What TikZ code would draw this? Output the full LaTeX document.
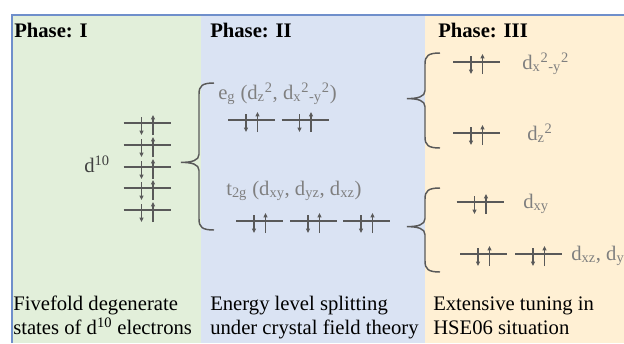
\documentclass[tikz,border=0pt]{standalone}
\usepackage{fontspec}
\setmainfont{LiberationSerif}[Extension=.ttf,UprightFont=*-Regular,BoldFont=*-Bold,ItalicFont=*-Italic,BoldItalicFont=*-BoldItalic]
\usetikzlibrary{arrows.meta,calc}
\definecolor{LeafGreen}{HTML}{E2EFDA}
\definecolor{PaleBlue}{HTML}{DAE3F3}
\definecolor{Peach}{HTML}{FFF0D4}
\definecolor{FrameBlue}{HTML}{6F8FCB}
\definecolor{LineGray}{HTML}{595959}
\definecolor{TagGray}{HTML}{7F7F7F}
\definecolor{InkGray}{HTML}{404040}

\begin{document}
\begin{tikzpicture}[x=0.75pt,y=-0.75pt,>={Triangle[length=3.2pt,width=2.8pt]},
  every node/.style={inner sep=0pt,font=\rmfamily\fontsize{15.5}{17.5}\selectfont},
  head/.style={anchor=base west,font=\rmfamily\fontsize{15.5}{17.5}\selectfont\bfseries},
  note/.style={anchor=base west,align=left},
  tag/.style={anchor=base west,text=TagGray},
  lvl/.style={LineGray,line width=1.1pt},
  spin/.style={LineGray,line width=0.9pt,->},
  curly/.style={LineGray,line width=1.1pt,to path={
    .. controls ($(\tikztostart)+(-12,0)$) and ($(\tikztostart)+(-15,3)$) .. ($(\tikztostart)+(-15,11)$)
    -- ($(\tikztostart)!#1!(\tikztotarget)+(-15,-8)$)
    .. controls ($(\tikztostart)!#1!(\tikztotarget)+(-15,-2)$) and ($(\tikztostart)!#1!(\tikztotarget)+(-22,0)$) .. ($(\tikztostart)!#1!(\tikztotarget)+(-33,0)$)
    .. controls ($(\tikztostart)!#1!(\tikztotarget)+(-22,0)$) and ($(\tikztostart)!#1!(\tikztotarget)+(-15,2)$) .. ($(\tikztostart)!#1!(\tikztotarget)+(-15,8)$)
    -- ($(\tikztotarget)+(-15,-11)$)
    .. controls ($(\tikztotarget)+(-15,-3)$) and ($(\tikztotarget)+(-12,0)$) .. (\tikztotarget)}},
  curly/.default=0.5,
  orb/.pic={\draw[lvl] (-23.5,0) -- (23.5,0);
    \draw[spin] (-5.5,-6) -- (-5.5,12);
    \draw[spin] (6,12) -- (6,-8);}]
  \useasboundingbox (0,0) rectangle (624,343);
  \fill[LeafGreen] (12,15) rectangle (201,343);
  \fill[PaleBlue] (201,15) rectangle (425,343);
  \fill[Peach] (425,15) rectangle (624,343);
  \draw[FrameBlue,line width=0.8pt] (12,343) -- (12,15) -- (624,15);

  \node[head] (phI) at (14,37) {Phase: I};
  \node[head] (phII) at (210,37) {Phase: II};
  \node[head] (phIII) at (438,37) {Phase: III};

  \foreach \y [count=\k] in {123,145,167,188,210}{
    \pic (dI\k) at (147,\y) {orb};
  }
  \node[anchor=base east,text=InkGray] (d10) at (110,172) {d\textsuperscript{10}};

  \node[tag] (eg) at (218,99) {e\textsubscript{g} (d\textsubscript{z}\textsuperscript{2}, d\textsubscript{x}\textsuperscript{2}\textsubscript{-y}\textsuperscript{2})};
  \foreach \x [count=\k] in {251.5,305}{
    \pic (egI\k) at (\x,120) {orb};
  }
  \node[tag] (tg) at (226,195) {t\textsubscript{2g} (d\textsubscript{xy}, d\textsubscript{yz}, d\textsubscript{xz})};
  \foreach \x [count=\k] in {259.5,313.5,366.5}{
    \pic (tgI\k) at (\x,221) {orb};
  }

  \pic (dx2y2) at (476.5,62) {orb};
  \pic (dz2) at (476.5,133) {orb};
  \pic (dxy) at (480,202) {orb};
  \pic (dxz) at (483.5,254) {orb};
  \pic (dyz) at (538.5,254) {orb};
  \node[tag] (lx2y2) at (522,69) {d\textsubscript{x}\textsuperscript{2}\textsubscript{-y}\textsuperscript{2}};
  \node[tag] (lz2) at (527,140) {d\textsubscript{z}\textsuperscript{2}};
  \node[tag] (lxy) at (523,208) {d\textsubscript{xy}};
  \node[tag] (lxzyz) at (571,260) {d\textsubscript{xz}, d\textsubscript{yz}};

  \coordinate (dTop) at (214,83);
  \coordinate (dBot) at (214,230);
  \coordinate (egTop) at (440,53);
  \coordinate (egBot) at (440,148);
  \coordinate (tgTop) at (440,188);
  \coordinate (tgBot) at (440,272);
  \draw[curly=0.54] (dTop) to (dBot);
  \draw[curly=0.48] (egTop) to (egBot);
  \draw[curly=0.46] (tgTop) to (tgBot);

  \node[note] (noteI) at (13,334) {Fivefold degenerate\\states of d\textsuperscript{10} electrons};
  \node[note] (noteII) at (210,334) {Energy level splitting\\under crystal field theory};
  \node[note] (noteIII) at (433,334) {Extensive tuning in\\HSE06 situation};
\end{tikzpicture}
\end{document}
